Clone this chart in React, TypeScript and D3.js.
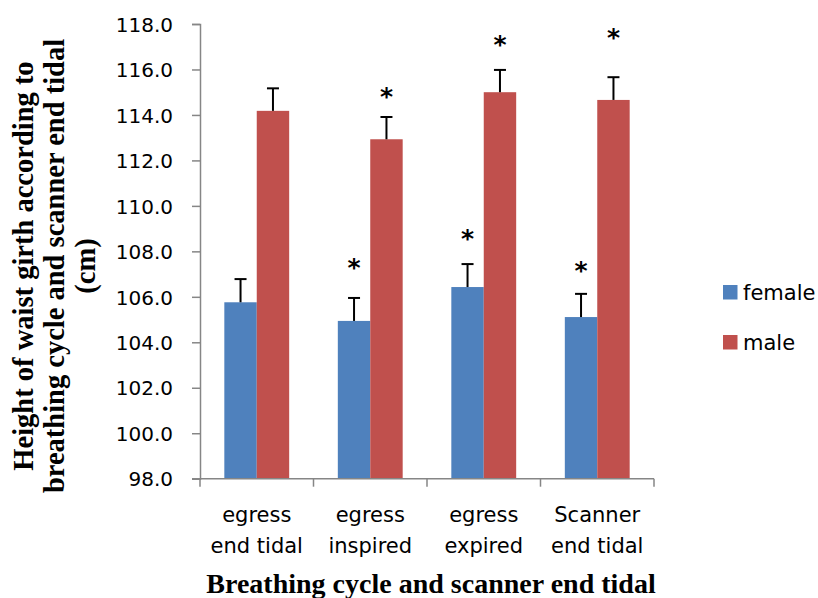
// grouped bars with error bars - waist girth by breathing cycle
import React, { useEffect, useRef } from 'react';
import * as d3 from 'd3';

const categories = [
  ['egress', 'end tidal'],
  ['egress', 'inspired'],
  ['egress', 'expired'],
  ['Scanner', 'end tidal'],
];
const seriesNames = ['female', 'male'];
const femaleValues = [105.76, 104.94, 106.43, 105.11];
const maleValues = [114.18, 112.93, 115.0, 114.66];
const femaleErrors = [1.02, 1.01, 1.01, 1.02];
const maleErrors = [0.99, 0.98, 0.98, 1.0];
// significance stars (value level of the star centre, null = none)
const femaleStars = [null, 107.55, 108.8, 107.4];
const maleStars = [null, 115.05, 117.35, 117.65];
const yTicks = [98, 100, 102, 104, 106, 108, 110, 112, 114, 116, 118];

const colors = ['#4F81BD', '#C0504D'];

export default function App() {
  const svgRef = useRef<SVGSVGElement>(null);

  useEffect(() => {
    const svg = d3.select(svgRef.current);
    svg.selectAll('*').remove();

    const left = 200, right = 654, top = 24, bottom = 478.7;

    const y = d3.scaleLinear().domain([98, 118]).range([bottom, top]);
    const x0 = d3.scaleBand<number>()
      .domain(categories.map((_, i) => i))
      .range([left, right]);
    const x1 = d3.scaleBand<string>()
      .domain(seriesNames)
      .range([0, x0.bandwidth()])
      .paddingInner(0)
      .paddingOuter(0.75);

    const values = [femaleValues, maleValues];
    const errors = [femaleErrors, maleErrors];
    const stars = [femaleStars, maleStars];

    // bars
    const groups = svg.append('g');
    seriesNames.forEach((s, si) => {
      values[si].forEach((v, ci) => {
        const bx = x0(ci)! + x1(s)!;
        groups.append('rect')
          .attr('x', bx)
          .attr('y', y(v))
          .attr('width', x1.bandwidth())
          .attr('height', bottom - y(v))
          .attr('fill', colors[si]);
        // error bar
        const cx = bx + x1.bandwidth() / 2;
        const et = y(v + errors[si][ci]);
        groups.append('line')
          .attr('x1', cx).attr('x2', cx)
          .attr('y1', y(v)).attr('y2', et)
          .attr('stroke', '#000').attr('stroke-width', 2);
        groups.append('line')
          .attr('x1', cx - 6).attr('x2', cx + 6)
          .attr('y1', et).attr('y2', et)
          .attr('stroke', '#000').attr('stroke-width', 2);
        const st = stars[si][ci];
        if (st != null) {
          groups.append('text')
            .attr('x', cx)
            .attr('y', y(st) + 14)
            .attr('text-anchor', 'middle')
            .attr('font-family', 'DejaVu Sans')
            .attr('font-weight', 'bold')
            .attr('font-size', 25)
            .attr('fill', '#000')
            .text('*');
        }
      });
    });

    // y axis
    const yAxis = d3.axisLeft(y).tickValues(yTicks).tickSize(8).tickFormat(d3.format('.1f'));
    const yg = svg.append('g').attr('transform', `translate(${left},0)`).call(yAxis);
    yg.select('.domain').attr('stroke', '#868686').attr('stroke-width', 1.5);
    yg.selectAll('.tick line').attr('stroke', '#868686').attr('stroke-width', 1.5);
    yg.selectAll('.tick text')
      .attr('x', -27)
      .attr('dy', '0.36em')
      .attr('font-family', 'DejaVu Sans')
      .attr('font-size', 20)
      .attr('fill', '#000');

    // x axis
    const xAxis = svg.append('g');
    xAxis.append('line')
      .attr('x1', left - 8).attr('x2', right)
      .attr('y1', bottom).attr('y2', bottom)
      .attr('stroke', '#868686').attr('stroke-width', 1.5);
    const edges = categories.map((_, i) => x0(i)!).concat([right]);
    edges.forEach(e => {
      xAxis.append('line')
        .attr('x1', e).attr('x2', e)
        .attr('y1', bottom).attr('y2', bottom + 8)
        .attr('stroke', '#868686').attr('stroke-width', 1.5);
    });
    categories.forEach((lines, i) => {
      const t = xAxis.append('text')
        .attr('text-anchor', 'middle')
        .attr('font-family', 'DejaVu Sans')
        .attr('font-size', 21)
        .attr('fill', '#000');
      lines.forEach((l, li) => {
        t.append('tspan')
          .attr('x', x0(i)! + x0.bandwidth() / 2)
          .attr('y', 521.5 + li * 31.7)
          .text(l);
      });
    });

    // axis titles
    svg.append('text')
      .attr('x', (left + right) / 2 + 4)
      .attr('y', 593)
      .attr('text-anchor', 'middle')
      .attr('font-family', 'Liberation Serif')
      .attr('font-weight', 'bold')
      .attr('font-size', 28)
      .attr('fill', '#000')
      .text('Breathing cycle and scanner end tidal');

    const yTitle = ['Height of waist girth according to', 'breathing cycle and scanner end tidal', '(cm)'];
    const yt = svg.append('text')
      .attr('transform', 'rotate(-90)')
      .attr('text-anchor', 'middle')
      .attr('font-family', 'Liberation Serif')
      .attr('font-weight', 'bold')
      .attr('font-size', 28.5)
      .attr('fill', '#000');
    yTitle.forEach((l, i) => {
      yt.append('tspan')
        .attr('x', -266)
        .attr('y', 33 + i * 31)
        .text(l);
    });

    // legend
    const legend = svg.append('g');
    seriesNames.forEach((s, i) => {
      const ly = 285 + i * 50;
      legend.append('rect')
        .attr('x', 723).attr('y', ly)
        .attr('width', 14.5).attr('height', 14.5)
        .attr('fill', colors[i]);
      legend.append('text')
        .attr('x', 743)
        .attr('y', ly + 14.5)
        .attr('font-family', 'DejaVu Sans')
        .attr('font-size', 21)
        .attr('fill', '#000')
        .text(s);
    });
  }, []);

  return (
    <svg
      ref={svgRef}
      width={818}
      height={598}
      style={{ position: 'absolute', left: 0, top: 0, background: '#fff' }}
    />
  );
}
